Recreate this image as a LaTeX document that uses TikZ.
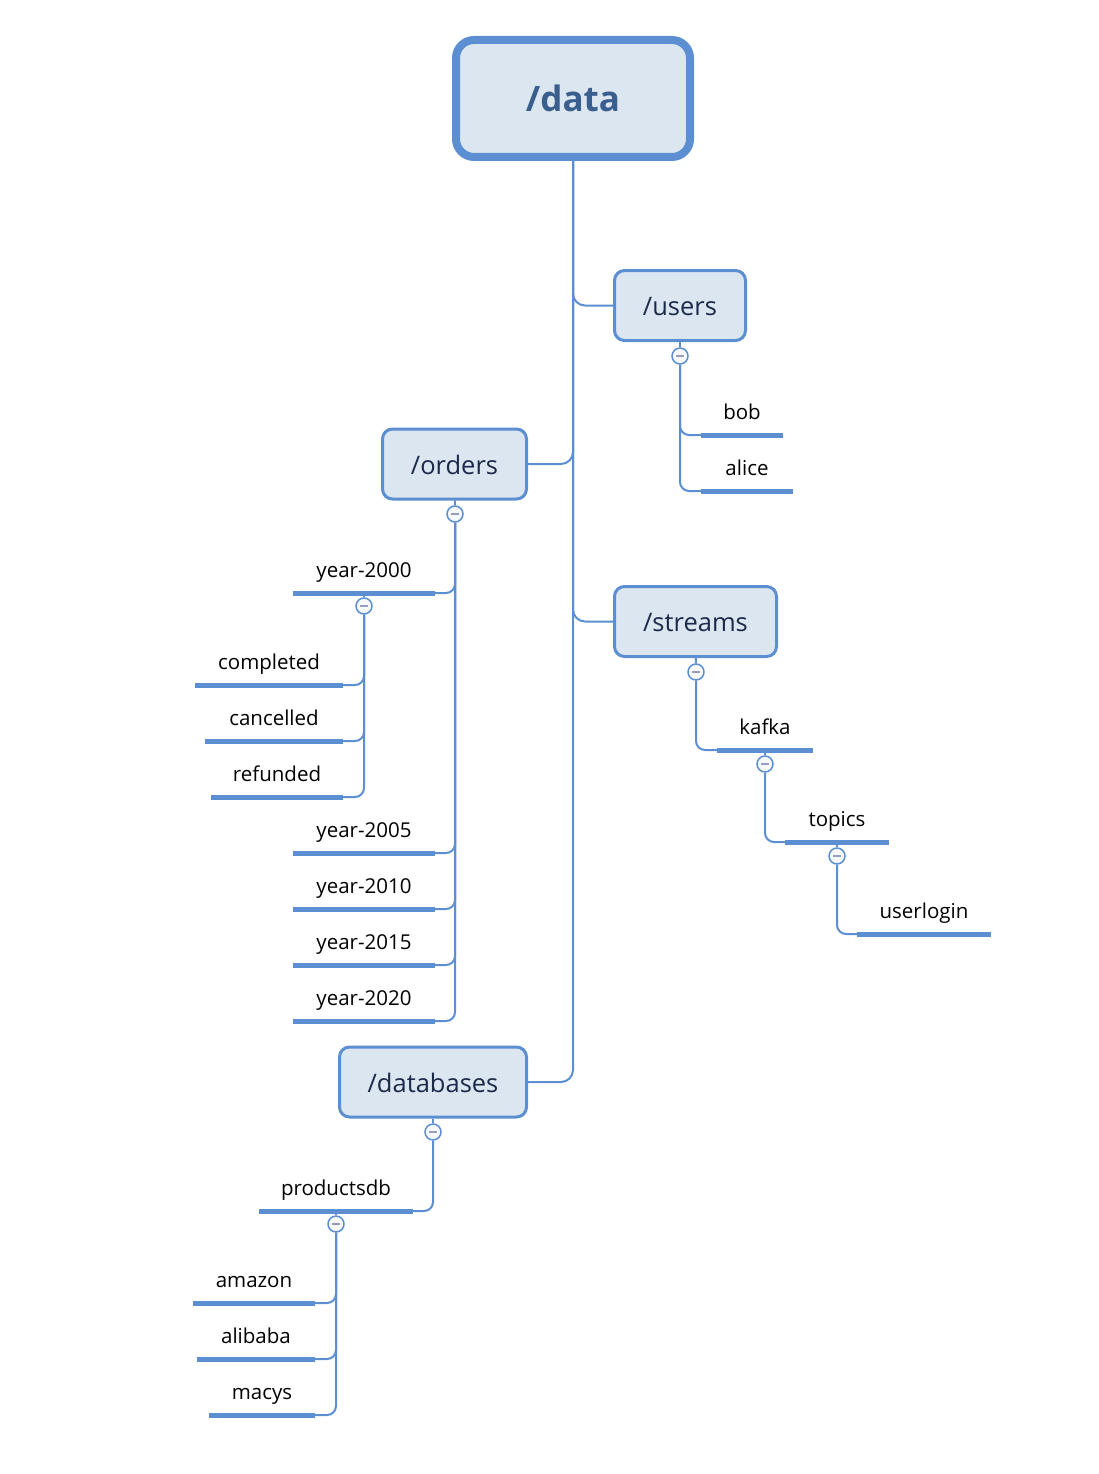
\documentclass[tikz,border=0pt]{standalone}
\usepackage{fontspec}
\setmainfont{Open Sans}
\definecolor{xblue}{RGB}{91,143,209}
\definecolor{xfill}{RGB}{220,230,241}
\definecolor{xroot}{RGB}{58,95,142}
\definecolor{xnavy}{RGB}{28,42,74}
\definecolor{xminus}{RGB}{150,160,190}
\definecolor{xtog}{RGB}{246,248,251}
\begin{document}
\begin{tikzpicture}[x=1pt,y=1pt,yscale=-1,xscale=1,
  rootbox/.style={draw=xblue,fill=xfill,line width=8pt,rounded corners=18pt,minimum width=234pt,minimum height=117pt,text=xroot,font=\fontsize{35}{40}\selectfont\bfseries},
  box/.style={draw=xblue,fill=xfill,line width=3pt,rounded corners=10pt,minimum height=70pt,text height=22pt,text depth=2pt,text=xnavy,font=\fontsize{25.5}{30}\selectfont},
  leaf/.style={anchor=south,inner xsep=0pt,inner ysep=10pt,text depth=5pt,font=\fontsize{20.5}{24}\selectfont},
  bar/.style={draw=xblue,line width=5pt},
  link/.style={draw=xblue,line width=2pt,rounded corners=9pt},
  tog/.style={circle,draw=xblue,fill=xtog,line width=1.5pt,minimum size=16pt,inner sep=0pt,
    path picture={\draw[xminus,line width=2pt] ([xshift=-4pt]path picture bounding box.center) -- ([xshift=4pt]path picture bounding box.center);}}]
%set diagram size
\useasboundingbox (0,0) rectangle (1098,1474);

%Shape: Root
\node[rootbox] (data) at (573,98.5) {/data};
%Shape: Main topics
\node[box,minimum width=131pt] (users) at (680,305.5) {/users};
\node[box,minimum width=144pt] (orders) at (454.5,464) {/orders};
\node[box,minimum width=162pt] (streams) at (695.5,621.5) {/streams};
\node[box,minimum width=187pt] (databases) at (433,1082) {/databases};

%Straight Lines: trunk
\draw[link,rounded corners=12pt] (data.south) |- (users.west);
\draw[link,rounded corners=12pt] (data.south) |- (orders.east);
\draw[link,rounded corners=12pt] (data.south) |- (streams.west);
\draw[link,rounded corners=12pt] (data.south) |- (databases.east);

% Text Node: leaves
\node[leaf,minimum width=82pt] (bob) at (742,435) {bob};
\node[leaf,minimum width=92pt] (alice) at (747,491) {alice};
\node[leaf,minimum width=142pt] (y2000) at (364,593) {year-2000};
\node[leaf,minimum width=148pt] (completed) at (269,685) {completed};
\node[leaf,minimum width=138pt] (cancelled) at (274,741) {cancelled};
\node[leaf,minimum width=132pt] (refunded) at (277,797) {refunded};
\node[leaf,minimum width=142pt] (y2005) at (364,853) {year-2005};
\node[leaf,minimum width=142pt] (y2010) at (364,909) {year-2010};
\node[leaf,minimum width=142pt] (y2015) at (364,965) {year-2015};
\node[leaf,minimum width=142pt] (y2020) at (364,1021) {year-2020};
\node[leaf,minimum width=96pt] (kafka) at (765,750) {kafka};
\node[leaf,minimum width=104pt] (topics) at (837,842) {topics};
\node[leaf,minimum width=134pt] (userlogin) at (924,934) {userlogin};
\node[leaf,minimum width=154pt] (productsdb) at (336,1211) {productsdb};
\node[leaf,minimum width=122pt] (amazon) at (254,1303) {amazon};
\node[leaf,minimum width=118pt] (alibaba) at (256,1359) {alibaba};
\node[leaf,minimum width=106pt] (macys) at (262,1415) {macys};

%Shape: collapse buttons
\node[tog] (tu) at (680,356) {};
\node[tog] (to) at (455,514) {};
\node[tog] (ty) at (364,606) {};
\node[tog] (ts) at (696,672) {};
\node[tog] (tk) at (765,764) {};
\node[tog] (tt) at (837,856) {};
\node[tog] (td) at (433,1132) {};
\node[tog] (tp) at (336,1224) {};

%Straight Lines: parent to button
\draw[link] (users) -- (tu);
\draw[link] (orders) -- (to);
\draw[link] (y2000.south) -- (ty);
\draw[link] (streams) -- (ts);
\draw[link] (kafka.south) -- (tk);
\draw[link] (topics.south) -- (tt);
\draw[link] (databases) -- (td);
\draw[link] (productsdb.south) -- (tp);

%Straight Lines: button to leaves
\foreach \n in {bob,alice} \draw[link] (tu.south) |- (\n.south west);
\foreach \n in {y2000,y2005,y2010,y2015,y2020} \draw[link] (to.south) |- (\n.south east);
\foreach \n in {completed,cancelled,refunded} \draw[link] (ty.south) |- (\n.south east);
\draw[link] (ts.south) |- (kafka.south west);
\draw[link] (tk.south) |- (topics.south west);
\draw[link] (tt.south) |- (userlogin.south west);
\draw[link] (td.south) |- (productsdb.south east);
\foreach \n in {amazon,alibaba,macys} \draw[link] (tp.south) |- (\n.south east);

%Shape: underlines
\foreach \n in {bob,alice,y2000,completed,cancelled,refunded,y2005,y2010,y2015,y2020,kafka,topics,userlogin,productsdb,amazon,alibaba,macys}
  \draw[bar] (\n.south west) -- (\n.south east);

\end{tikzpicture}
\end{document}
